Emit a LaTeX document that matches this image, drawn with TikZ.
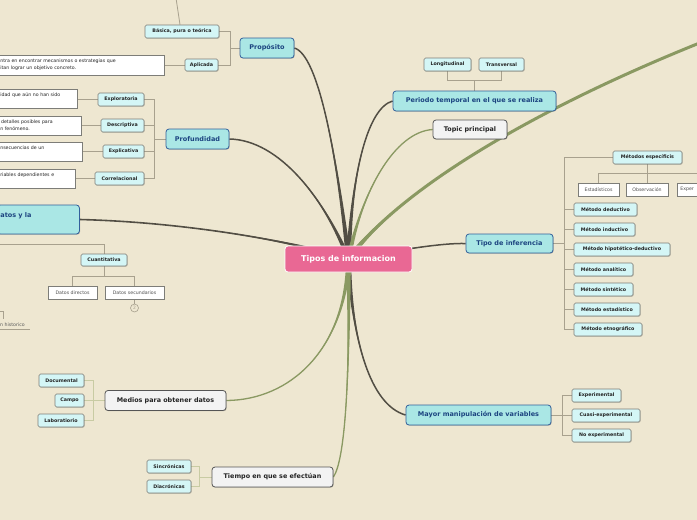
\documentclass[tikz,border=0pt]{standalone}
\usepackage{fontspec}
\setmainfont{DejaVu Sans}
\usetikzlibrary{calc,shadows}
\definecolor{bgc}{RGB}{238,231,209}
\definecolor{mfill}{RGB}{170,231,229}
\definecolor{mdraw}{RGB}{50,95,155}
\definecolor{mtext}{RGB}{28,68,128}
\definecolor{sfill}{RGB}{212,246,246}
\definecolor{sdraw}{RGB}{125,125,120}
\definecolor{stext}{RGB}{35,35,35}
\definecolor{gfill}{RGB}{243,243,243}
\definecolor{gdraw}{RGB}{85,85,85}
\definecolor{pinkc}{RGB}{233,104,148}
\definecolor{darkbr}{RGB}{82,78,68}
\definecolor{olivebr}{RGB}{138,153,98}
\definecolor{tcc}{RGB}{168,161,142}
\definecolor{tgc}{RGB}{200,203,163}
\pgfdeclarelayer{bgl}\pgfdeclarelayer{conn}\pgfsetlayers{bgl,conn,main}
\newcommand{\mybranch}[6]{%
  \fill[#1] ($(central.center)+#2$) .. controls #3 and #4 .. (#5) .. controls #4 and #3 .. ($(central.center)-#2$) -- cycle;
  \draw[#1, line width=#6] (central.center) .. controls #3 and #4 .. (#5);
}
\tikzset{
 shd/.style={drop shadow={shadow xshift=0.7pt,shadow yshift=-0.7pt,opacity=0.22,fill=black}},
 mainnode/.style={draw=mdraw, fill=mfill, text=mtext, line width=0.8pt, rounded corners=3pt, inner sep=0pt, font=\bfseries\fontsize{6.5}{8}\selectfont, minimum height=20pt, shd},
 subnode/.style={draw=sdraw, fill=sfill, text=stext, line width=0.6pt, rounded corners=1.5pt, inner sep=0pt, font=\bfseries\fontsize{4.8}{6}\selectfont, minimum height=13pt, shd},
 gnode/.style={draw=gdraw, fill=gfill, text=stext, line width=0.8pt, rounded corners=3pt, inner sep=0pt, font=\bfseries\fontsize{6.4}{8}\selectfont, minimum height=20pt, shd},
 wnode/.style={draw=sdraw, fill=white, text=stext!80, line width=0.6pt, inner sep=0pt, font=\fontsize{4.7}{6}\selectfont, minimum height=13pt, shd},
 notebox/.style={draw=sdraw, fill=white, text=stext, line width=0.6pt, inner xsep=3pt, inner ysep=0pt, font=\fontsize{4.7}{7}\selectfont, align=left, minimum height=19pt, anchor=west, shd},
 tc/.style={draw=tcc, line width=0.8pt},
 tg/.style={draw=tgc, line width=0.9pt},
}
\begin{document}
\begin{tikzpicture}[x=1pt,y=-1pt]
\useasboundingbox (0,0) rectangle (697,520);
\begin{pgfonlayer}{bgl}
\fill[bgc] (0,0) rectangle (697,520);
\end{pgfonlayer}

% central
\node[draw=white, fill=pinkc, text=white, line width=0.8pt, rounded corners=3pt, inner sep=0pt,
      font=\bfseries\fontsize{8}{10}\selectfont, minimum width=127pt, minimum height=26pt] (central) at (348.5,259) {Tipos de informacion};

% main topics
\node[mainnode, minimum width=54pt] (prop) at (267,48) {Propósito};
\node[mainnode, minimum width=63pt] (prof) at (197.5,139) {Profundidad};
\node[mainnode, anchor=west, inner xsep=3pt, text width=76pt, align=left, minimum height=29pt] (bigl) at (-3,219.5) {atos y la\\\mbox{}};
\node[mainnode, minimum width=163pt] (per) at (474.5,101) {Periodo temporal en el que se realiza};
\node[mainnode, minimum width=87pt, minimum height=19pt] (inf) at (509.5,243.5) {Tipo de inferencia};
\node[mainnode, minimum width=145pt] (may) at (478.5,415) {Mayor manipulación de variables};

\node[gnode, minimum width=74pt, minimum height=19pt] (topic) at (470,129.5) {Topic principal};
\node[gnode, minimum width=121pt] (med) at (165.5,400.5) {Medios para obtener datos};
\node[gnode, minimum width=121pt] (tie) at (272.5,477) {Tiempo en que se efectúan};

% subtopics
\node[subnode, minimum width=74pt] (basica) at (182,31.5) {Básica, pura o teórica};
\node[subnode, minimum width=33pt, minimum height=12pt] (aplic) at (201.5,65) {Aplicada};
\node[subnode, minimum width=46pt] (explor) at (121,99.5) {Exploratoria};
\node[subnode, minimum width=43pt] (descr) at (122.5,125.5) {Descriptiva};
\node[subnode, minimum width=41pt] (expli) at (123.5,151.5) {Explicativa};
\node[subnode, minimum width=49pt] (corr) at (119.5,178.5) {Correlacional};
\node[subnode, minimum width=46pt, minimum height=12pt] (cuant) at (104,260) {Cuantitativa};
\node[subnode, minimum width=45pt] (doc) at (61.5,380.5) {Documental};
\node[subnode, minimum width=29pt] (campo) at (69.5,400.5) {Campo};
\node[subnode, minimum width=46pt] (lab) at (61,420.5) {Laboratiorio};
\node[subnode, minimum width=44pt] (sinc) at (169,466.5) {Sincrónicas};
\node[subnode, minimum width=44pt] (diac) at (169,486.5) {Diacrónicas};
\node[subnode, minimum width=47pt] (longi) at (447.5,64.5) {Longitudinal};
\node[subnode, minimum width=45pt] (trans) at (501.5,64.5) {Transversal};
\node[subnode, minimum width=69pt] (mesp) at (647.5,157.5) {Métodos específicis};
\node[subnode, minimum width=63pt] (m1) at (605.5,209.5) {Método deductivo};
\node[subnode, minimum width=61pt] (m2) at (604.5,229.5) {Método inductivo};
\node[subnode, minimum width=96pt] (m3) at (622,249.5) {Método hipotético-deductivo};
\node[subnode, minimum width=59pt] (m4) at (603.5,269.5) {Método analítico};
\node[subnode, minimum width=59pt] (m5) at (603.5,289.5) {Método sintético};
\node[subnode, minimum width=66pt] (m6) at (607,309.5) {Método estadístico};
\node[subnode, minimum width=68pt] (m7) at (608,329.5) {Método etnográfico};
\node[subnode, minimum width=49pt] (exp) at (596.5,395.5) {Experimental};
\node[subnode, minimum width=68pt] (cuasi) at (606,415.5) {Cuasi-experimental};
\node[subnode, minimum width=59pt] (noexp) at (601.5,435.5) {No experimental};

% white nodes
\node[wnode, minimum width=41pt] (estad) at (598.5,189.5) {Estadísticos};
\node[wnode, minimum width=42pt] (obs) at (647,189.5) {Observación};
\node[wnode, anchor=west, inner xsep=3pt, text width=40pt, align=left] (expB) at (677,189.5) {Exper};
\node[wnode, minimum width=49pt] (ddir) at (72.5,292.5) {Datos directos};
\node[wnode, minimum width=59pt] (dsec) at (134.5,292.5) {Datos secundarios};
\node[circle, draw=tcc, line width=0.6pt, inner sep=0pt, minimum size=8pt, text=tcc, font=\fontsize{4.5}{5}\selectfont] (cnt) at (134.5,308) {2};

% notes (cut at left edge)
\node[notebox, text width=161pt, minimum height=20pt] (n1) at (-3,65) {ntra en encontrar mecanismos o estrategias que\\itan lograr un objetivo concreto.};
\node[notebox, text width=74pt] (n2) at (-3,98.5) {idad que aún no han sido\\\mbox{}};
\node[notebox, text width=78pt] (n3) at (-3,125.5) {\,detalles posibles para\\n fenómeno.};
\node[notebox, text width=79pt] (n4) at (-3,151.5) {nsecuencias de un\\\mbox{}};
\node[notebox, text width=72pt] (n5) at (-3,178.5) {riables dependientes e\\\mbox{}};

\node[anchor=west, inner sep=0pt, text=stext!75, font=\fontsize{4.7}{6}\selectfont] (hist) at (0,325) {n historico};

% thin connectors
\begin{pgfonlayer}{conn}
\coordinate (jprop) at ($(prop.west)+(-9,0)$);
\draw[tc] (prop.west) -- (jprop);
\draw[tc] (basica.east) -| (jprop) |- (aplic.east);
\coordinate (btop) at (176,-2);
\draw[tc] ($(basica.north)+(-2,0)$) -- (btop);
\draw[tc] (aplic.west) -- (n1.east);

\coordinate (jprof) at ($(prof.west)+(-11,0)$);
\draw[tc] (prof.west) -- (jprof);
\draw[tc] (explor.east) -| (jprof) |- (corr.east);
\draw[tc] (descr.east) -- (descr.east -| jprof);
\draw[tc] (expli.east) -- (expli.east -| jprof);
\draw[tc] (explor.west) -- (n2.east |- explor.west);
\draw[tc] (descr.west) -- (n3.east);
\draw[tc] (expli.west) -- (n4.east);
\draw[tc] (corr.west) -- (n5.east);

\coordinate (lt) at (0,244);
\draw[tc] (lt) -| (cuant.north);
\coordinate (jc) at ($(cuant.south)+(0,10)$);
\draw[tc] (cuant.south) -- (jc);
\draw[tc] (ddir.north) |- (jc) -| (dsec.north);
\draw[tc] (dsec.south) -- (cnt.north);
\coordinate (hb) at (3,311);
\draw[tc, line width=0.6pt] (0,311) -- (hb) -- (3,319);
\draw[tc, line width=0.6pt] (hist.south west) ++(0,2.5) -- ++(30,0);

\coordinate (jm) at ($(med.west)+(-11,0)$);
\draw[tg] (med.west) -- (jm);
\draw[tg] (doc.east) -| (jm) |- (lab.east);
\draw[tg] (campo.east) -- (campo.east -| jm);

\coordinate (jt) at ($(tie.west)+(-12,0)$);
\draw[tg] (tie.west) -- (jt);
\draw[tg] (sinc.east) -| (jt) |- (diac.east);

\coordinate (jp) at ($(per.north)+(0,-10)$);
\draw[tc] (per.north) -- (jp);
\draw[tc] (longi.south) |- (jp) -| (trans.south);

\coordinate (ji) at ($(inf.east)+(11,0)$);
\draw[tc] (inf.east) -- (ji);
\draw[tc] (mesp.west) -| (ji) |- (m7.west);
\foreach \m in {m1,m2,m3,m4,m5,m6} \draw[tc] (\m.west) -- (\m.west -| ji);
\coordinate (jmesp) at ($(mesp.south)+(0,9)$);
\draw[tc] (mesp.south) -- (jmesp);
\draw[tc] (estad.north) |- (jmesp) -| (expB.north);
\draw[tc] (obs.north) -- (obs.north |- jmesp);

\coordinate (jy) at ($(may.east)+(11,0)$);
\draw[tc] (may.east) -- (jy);
\draw[tc] (exp.west) -| (jy) |- (noexp.west);
\draw[tc] (cuasi.west) -- (cuasi.west -| jy);

% main branches
\coordinate (farend) at (702,42);
\mybranch{olivebr}{(3.5,0)}{(395,195)}{(520,115)}{farend}{3pt}
\mybranch{darkbr}{(2.6,0)}{(336,150)}{(318,55)}{prop.east}{1.5pt}
\mybranch{darkbr}{(2.6,0)}{(325,200)}{(280,140)}{prof.east}{1.5pt}
\mybranch{darkbr}{(0,2.6)}{(290,240)}{(180,222)}{bigl.east}{1.6pt}
\mybranch{darkbr}{(2.6,0)}{(352,170)}{(368,108)}{per.west}{1.5pt}
\mybranch{olivebr}{(2.4,0)}{(362,190)}{(395,132)}{topic.west}{1.3pt}
\mybranch{darkbr}{(0,2.6)}{(400,250)}{(440,243)}{inf.west}{1.5pt}
\mybranch{darkbr}{(2.6,0)}{(352,340)}{(370,405)}{may.west}{1.5pt}
\mybranch{olivebr}{(2.4,0)}{(345,350)}{(290,400)}{med.east}{1.3pt}
\mybranch{olivebr}{(2.4,0)}{(350,380)}{(345,460)}{tie.east}{1.3pt}
\end{pgfonlayer}
\end{tikzpicture}
\end{document}
